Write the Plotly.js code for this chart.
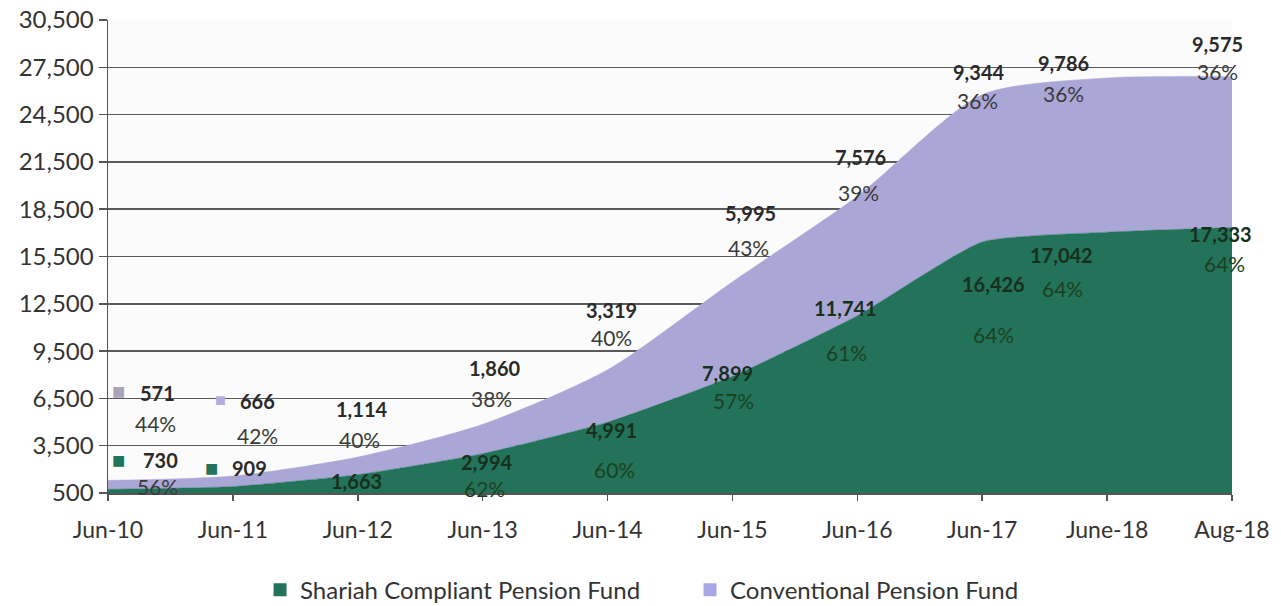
<!DOCTYPE html>
<html>
<head>
<meta charset="utf-8">
<script src="https://cdn.plot.ly/plotly-3.0.1.min.js"></script>
<style>html,body{margin:0;padding:0;background:#fff;}#chart{width:1281px;height:606px;}</style>
</head>
<body>
<div id="chart"></div>
<script>
// ---- data ----
const categories = ['Jun-10','Jun-11','Jun-12','Jun-13','Jun-14','Jun-15','Jun-16','Jun-17','June-18','Aug-18'];
const shariah = [730, 909, 1663, 2994, 4991, 7899, 11741, 16426, 17042, 17333];
const conventional = [571, 666, 1114, 1860, 3319, 5995, 7576, 9344, 9786, 9575];
const shariahPct = ['56%','58%','60%','62%','60%','57%','61%','64%','64%','64%'];
const conventionalPct = ['44%','42%','40%','38%','40%','43%','39%','36%','36%','36%'];
const yTicks = [500, 3500, 6500, 9500, 12500, 15500, 18500, 21500, 24500, 27500, 30500];

// ---- label placement (layout only) ----
const convNumY = [6842, 6335, 5827, 8428, 12106, 18258, 21809, 27200, 27771, 28976];
const convNumDx = [49, 25, 4, 12, 4, 18, 3, -4, -44, -15];
const convPctY = [4939, 4178, 3925, 6525, 10393, 16101, 19589, 25424, 25868, 27263];
const convPctDx = [47, 25, 2, 9, 4, 16, 1, -5, -44, -15];
const shNumY = [2625, 2086, 1261, 2498, 4495, 8111, 12233, 13755, 15594, 16926];
const shNumDx = [52, 17, -1, 4, 4, -5, -12, 11, -46, -12];
const shPctY = [912, -134, -705, 786, 2022, 6398, 9442, 10584, 13501, 15087];
const shPctDx = [49, 15, -2, 2, 7, 1, -11, 11, -45, -8];

const GREEN = '#23725a';
const PURPLE = '#aaa6d6';
const FONT = 'Lato, "Open Sans", sans-serif';

const traces = [
  {
    x: categories, y: shariah, name: 'Shariah Compliant Pension Fund',
    type: 'scatter', mode: 'lines', stackgroup: 'one', showlegend: false,
    line: {shape: 'spline', smoothing: 0.5, width: 0.5, color: GREEN},
    fillcolor: GREEN, hoverinfo: 'skip'
  },
  {
    x: categories, y: conventional, name: 'Conventional Pension Fund',
    type: 'scatter', mode: 'lines', stackgroup: 'one', showlegend: false,
    line: {shape: 'spline', smoothing: 0.7, width: 0.5, color: PURPLE},
    fillcolor: PURPLE, hoverinfo: 'skip'
  },
  // legend keys (square swatches)
  {x: [null], y: [null], name: 'Shariah Compliant Pension Fund', type: 'scatter', mode: 'markers',
   marker: {symbol: 'square', size: 13, color: GREEN}, hoverinfo: 'skip'},
  {x: [null], y: [null], name: 'Conventional Pension Fund', type: 'scatter', mode: 'markers',
   marker: {symbol: 'square', size: 13, color: '#a9a6e6'}, hoverinfo: 'skip'}
];

const fmt = v => v.toLocaleString('en-US');
const annotations = [];
categories.forEach((c, i) => {
  annotations.push({x: c, y: convNumY[i], xshift: convNumDx[i], text: '<b>' + fmt(conventional[i]) + '</b>',
    showarrow: false, borderpad: 0, font: {family: FONT, size: 20, color: '#2a2a2a'}});
  annotations.push({x: c, y: convPctY[i], xshift: convPctDx[i], text: conventionalPct[i],
    showarrow: false, borderpad: 0, font: {family: FONT, size: 21, color: '#3a3a3a'}});
  annotations.push({x: c, y: shNumY[i], xshift: shNumDx[i], text: '<b>' + fmt(shariah[i]) + '</b>',
    showarrow: false, borderpad: 0, font: {family: FONT, size: 20, color: i < 2 ? '#2a2a2a' : '#17301c'}});
  annotations.push({x: c, y: shPctY[i], xshift: shPctDx[i], text: shariahPct[i],
    showarrow: false, borderpad: 0, font: {family: FONT, size: 21, color: i < 3 ? '#3a3a3a' : '#1b4220'}});
});
// small key squares next to the first labels
annotations.push({x: categories[0], y: convNumY[0] + 150, xshift: 10, text: '■', showarrow: false, borderpad: 0, font: {size: 22, color: '#a8a4b8'}});
annotations.push({x: categories[1], y: convNumY[1] + 150, xshift: -12, text: '■', showarrow: false, borderpad: 0, font: {size: 18, color: '#b3aee0'}});
annotations.push({x: categories[0], y: shNumY[0] - 30, xshift: 10, text: '■', showarrow: false, borderpad: 0, font: {size: 22, color: GREEN}});
annotations.push({x: categories[1], y: shNumY[1] + 0, xshift: -21, text: '■', showarrow: false, borderpad: 0, font: {size: 22, color: GREEN}});

const layout = {
  width: 1281, height: 606,
  margin: {l: 108, r: 49, t: 20, b: 113},
  paper_bgcolor: '#ffffff', plot_bgcolor: '#fbfbfb',
  font: {family: FONT, size: 22, color: '#333'},
  showlegend: true,
  legend: {
    orientation: 'h', xref: 'container', yref: 'container',
    x: 0.203, xanchor: 'left', y: 0.026, yanchor: 'middle',
    font: {family: FONT, size: 24, color: '#333'},
    traceorder: 'normal', entrywidth: 385, entrywidthmode: 'pixels'
  },
  xaxis: {
    type: 'category', range: [0, 9], showgrid: false,
    showline: true, linecolor: '#555', linewidth: 1.5,
    ticks: 'outside', ticklen: 6, tickcolor: '#555', tickwidth: 1.5,
    ticklabelstandoff: 10,
    tickfont: {family: FONT, size: 23, color: '#333'},
    fixedrange: true
  },
  yaxis: {
    range: [500, 30500], tickmode: 'array', tickvals: yTicks,
    ticktext: yTicks.map(fmt),
    showgrid: true, gridcolor: '#5a5a5a', gridwidth: 1.5,
    showline: true, linecolor: '#555', linewidth: 1.5,
    ticks: 'outside', ticklen: 8, tickcolor: '#555', tickwidth: 1.5,
    zeroline: false,
    tickfont: {family: FONT, size: 24, color: '#333'},
    fixedrange: true
  },
  annotations: annotations
};

Plotly.newPlot('chart', traces, layout, {displayModeBar: false, staticPlot: true});
</script>
</body>
</html>
